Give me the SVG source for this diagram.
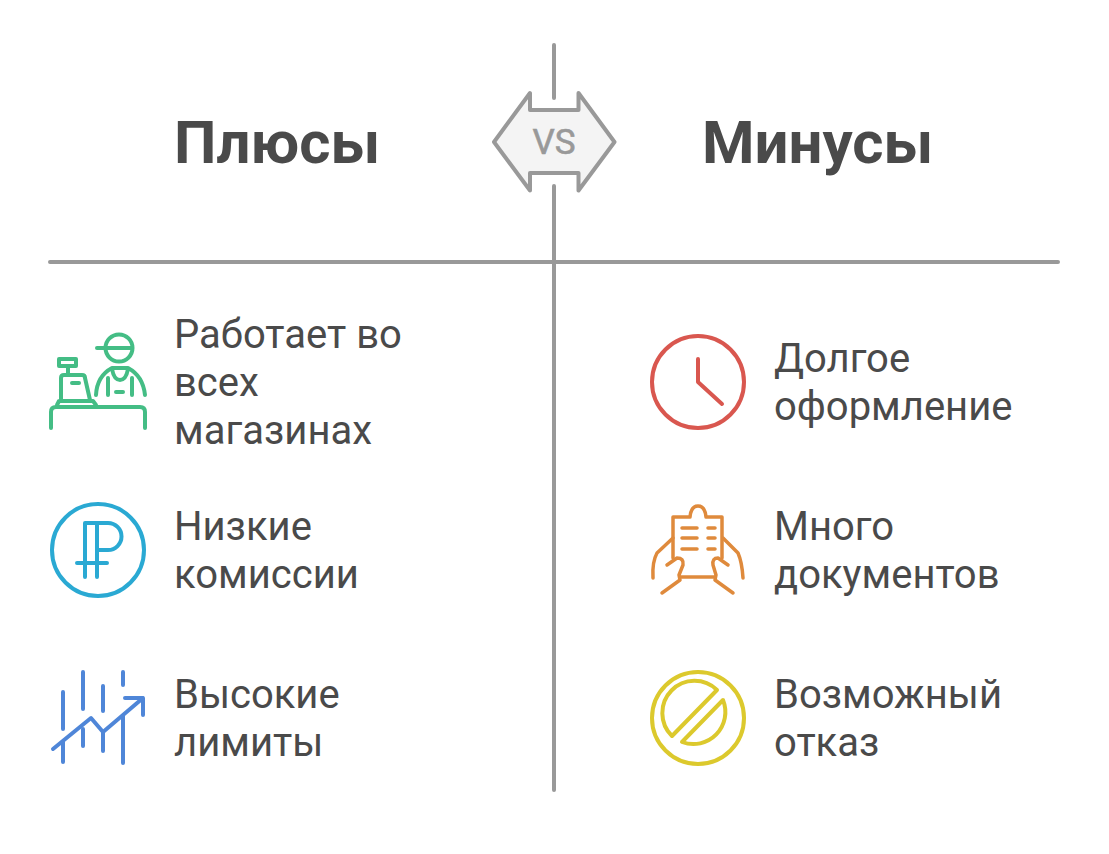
<svg xmlns="http://www.w3.org/2000/svg" width="1109" height="854" viewBox="0 0 1109 854">
<style>
text{font-family:Roboto,"Liberation Sans",sans-serif;fill:#4a4a4a}
.h{font-size:60px;font-weight:700}
.t{font-size:40px}
.r{fill:none;stroke:#999;stroke-width:4;stroke-linecap:round;stroke-linejoin:round}
.i{fill:none;stroke-width:4;stroke-linecap:round;stroke-linejoin:round}
</style>
<rect width="1109" height="854" fill="#fff"/>
<g id="connectors">
<path class="r" d="M554 45V98M554 186V790M50 262H1058"/>
</g>
<g id="vs">
<path d="M530 93V110H578.5V93L614.500 142L578.500 190.500V173H530V190.500L494 142Z" fill="#f4f4f4" stroke="#999" stroke-width="4" stroke-linejoin="round"/>
<text x="554" y="154" text-anchor="middle" style="font-size:35px;fill:#999;stroke:#999;stroke-width:.6">VS</text>
</g>
<g id="header-pros"><text class="h" x="174" y="163">Плюсы</text></g>
<g id="header-cons"><text class="h" x="702" y="163">Минусы</text></g>
<g id="pro-1">
<g class="i" stroke="#44bd85">
<circle cx="119" cy="348" r="13.500"/>
<path d="M97 348H132"/>
<path d="M96 395Q97 376 112 368H128Q143 376 145 395"/>
<path d="M112 369Q114 380 120 380Q126 380 128 369"/>
<path d="M108 378V395M132 378V395M116 392H123"/>
<path d="M59 359H76V366H59ZM68 366V375"/>
<path d="M61 400V378Q61 375 64 375H82Q85 375 85 378L90 400M57 405L59 401H93L96 405M72 383H79"/>
<path d="M51 428V412Q51 407 56 407H140Q145 407 145 412V428"/>
</g>
<text class="t" x="174" y="348">Работает во</text>
<text class="t" x="174" y="396">всех</text>
<text class="t" x="174" y="444">магазинах</text>
</g>
<g id="pro-2">
<g class="i" stroke="#2aa9d3">
<circle cx="98" cy="550" r="46"/>
<path d="M85 577V523H108A13.500 13.500 0 0 1 108 550H97M97 523V577M77 563H107"/>
</g>
<text class="t" x="174" y="540">Низкие</text>
<text class="t" x="174" y="588">комиссии</text>
</g>
<g id="pro-3">
<g class="i" stroke="#4f86d8">
<path d="M53 749L91 718L103 732L143 698M125 698H143V715"/>
<path d="M63 692V729M63 742V762M83 672V709M83 729V746M103 686V711M103 732V751M123 672V685M123 716V763"/>
</g>
<text class="t" x="174" y="708">Высокие</text>
<text class="t" x="174" y="756">лимиты</text>
</g>
<g id="con-1">
<g class="i" stroke="#d9574f">
<circle cx="698" cy="382" r="46"/>
<path d="M698 359V382L722 404"/>
</g>
<text class="t" x="774" y="372">Долгое</text>
<text class="t" x="774" y="420">оформление</text>
</g>
<g id="con-2">
<g class="i" stroke="#df8a3c" style="stroke-width:3.500">
<path d="M673 558V517H690Q691 506 698 506Q705 506 706 517H722V558"/>
<path d="M682 528H697M682 538H697M682 549H697M708 528H715M708 538H715M708 549H715"/>
<path d="M673 538L657 553Q652 562 653 578"/>
<path d="M667 565L677 558Q684 558 683 565L679 575L680 580L662 593"/>
<path d="M723 538L738 553Q742 562 743 578"/>
<path d="M728 565L718 558Q712 558 713 565L716 575L715 580L733 593"/>
<path d="M680 577H715"/>
</g>
<text class="t" x="774" y="540">Много</text>
<text class="t" x="774" y="588">документов</text>
</g>
<g id="con-3">
<g class="i" stroke="#dcc92d">
<circle cx="698" cy="718" r="46"/>
<path d="M672 736A32 32 0 0 1 717 690Z"/>
<path d="M723 700A32 32 0 0 1 682 742Z"/>
</g>
<text class="t" x="774" y="708">Возможный</text>
<text class="t" x="774" y="756">отказ</text>
</g>
</svg>
